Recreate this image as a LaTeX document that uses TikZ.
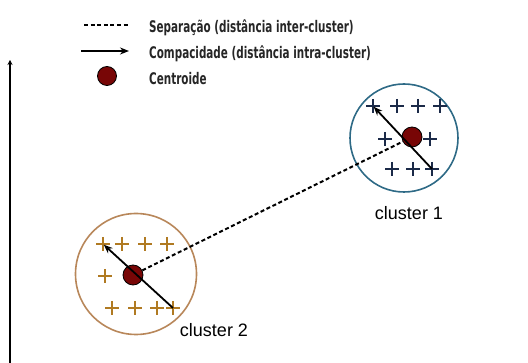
\documentclass[tikz,border=0pt]{standalone}
\usepackage{fontspec}
\usetikzlibrary{arrows.meta}
\newfontfamily\legendfont[FakeStretch=0.65]{DejaVu Sans Bold}
\newfontfamily\labelfont{Liberation Sans}
\definecolor{navy}{HTML}{1B2A48}
\definecolor{ringblue}{HTML}{2E6A86}
\definecolor{ringtan}{HTML}{B8875A}
\definecolor{plusgold}{HTML}{B07A22}
\definecolor{darkred}{HTML}{780606}
\tikzset{
  plusmark/.style={minimum size=14pt, inner sep=0pt, outer sep=0pt,
    path picture={\draw[line width=2.4pt,#1]
      (path picture bounding box.north) -- (path picture bounding box.south)
      (path picture bounding box.west) -- (path picture bounding box.east);}},
  centroid/.style={circle, draw=black, line width=0.8pt, fill=darkred,
    minimum size=#1, inner sep=0pt},
  centroid/.default=20pt,
  ring/.style={circle, draw=#1, line width=1.6pt, inner sep=0pt},
  sepline/.style={line width=2pt, dash pattern=on 4pt off 2.6pt},
  compline/.style={line width=1.8pt, -{Stealth[length=9pt,width=7pt]}},
  legendtext/.style={anchor=west, inner sep=0pt, text=black!85,
    font=\legendfont\fontsize{16}{18}\selectfont},
  clusterlabel/.style={font=\labelfont\fontsize{18}{20}\selectfont, inner sep=0pt},
}
\begin{document}
\begin{tikzpicture}[x=1pt,y=-1pt]
\useasboundingbox (0,0) rectangle (528,363);

% vertical axis
\coordinate (axb) at (10,363);
\coordinate (axt) at (10,60);
\draw[line width=2pt, -{Stealth[length=5pt,width=5pt]}] (axb) -- (axt);

% legend
\coordinate (l1a) at (84,25);
\coordinate (l1b) at (128,25);
\draw[sepline] (l1a) -- (l1b);
\node[legendtext] (t1) at (149,28) {Separação (distância inter-cluster)};
\coordinate (l2a) at (81,51);
\coordinate (l2b) at (129,51);
\draw[compline] (l2a) -- (l2b);
\node[legendtext] (t2) at (149,54) {Compacidade (distância intra-cluster)};
\node[centroid=19pt] (lc) at (107,76) {};
\node[legendtext] (t3) at (149,79) {Centroide};

% cluster 1
\node[ring=ringblue, minimum size=108pt] (r1) at (404,138) {};
\foreach \n/\px/\py in {a1/373/106, a2/397/106, a3/418/106, a4/440/106,
                       a5/385/139, a6/430/139,
                       a7/392/169, a8/413/169, a9/432/169}
  \node[plusmark=navy] (\n) at (\px,\py) {};
\node[centroid] (c1) at (412,137) {};
\node[clusterlabel] (k1) at (409,213) {cluster 1};

% cluster 2
\node[ring=ringtan, minimum size=121pt] (r2) at (136,274) {};
\foreach \n/\px/\py in {b1/103/244, b2/122/244, b3/145/244, b4/167/244,
                       b5/105/276,
                       b6/112/308, b7/135/308, b8/157/308, b9/173/308}
  \node[plusmark=plusgold] (\n) at (\px,\py) {};
\node[centroid] (c2) at (133,275) {};
\node[clusterlabel] (k2) at (214,330) {cluster 2};

% separation between centroids
\draw[sepline] (c2) -- (c1);

% compactness arrows
\draw[compline, shorten >=1pt] (a9.center) -- (a1.center);
\draw[compline, shorten >=1pt] (b9.center) -- (b1.center);
\end{tikzpicture}
\end{document}
